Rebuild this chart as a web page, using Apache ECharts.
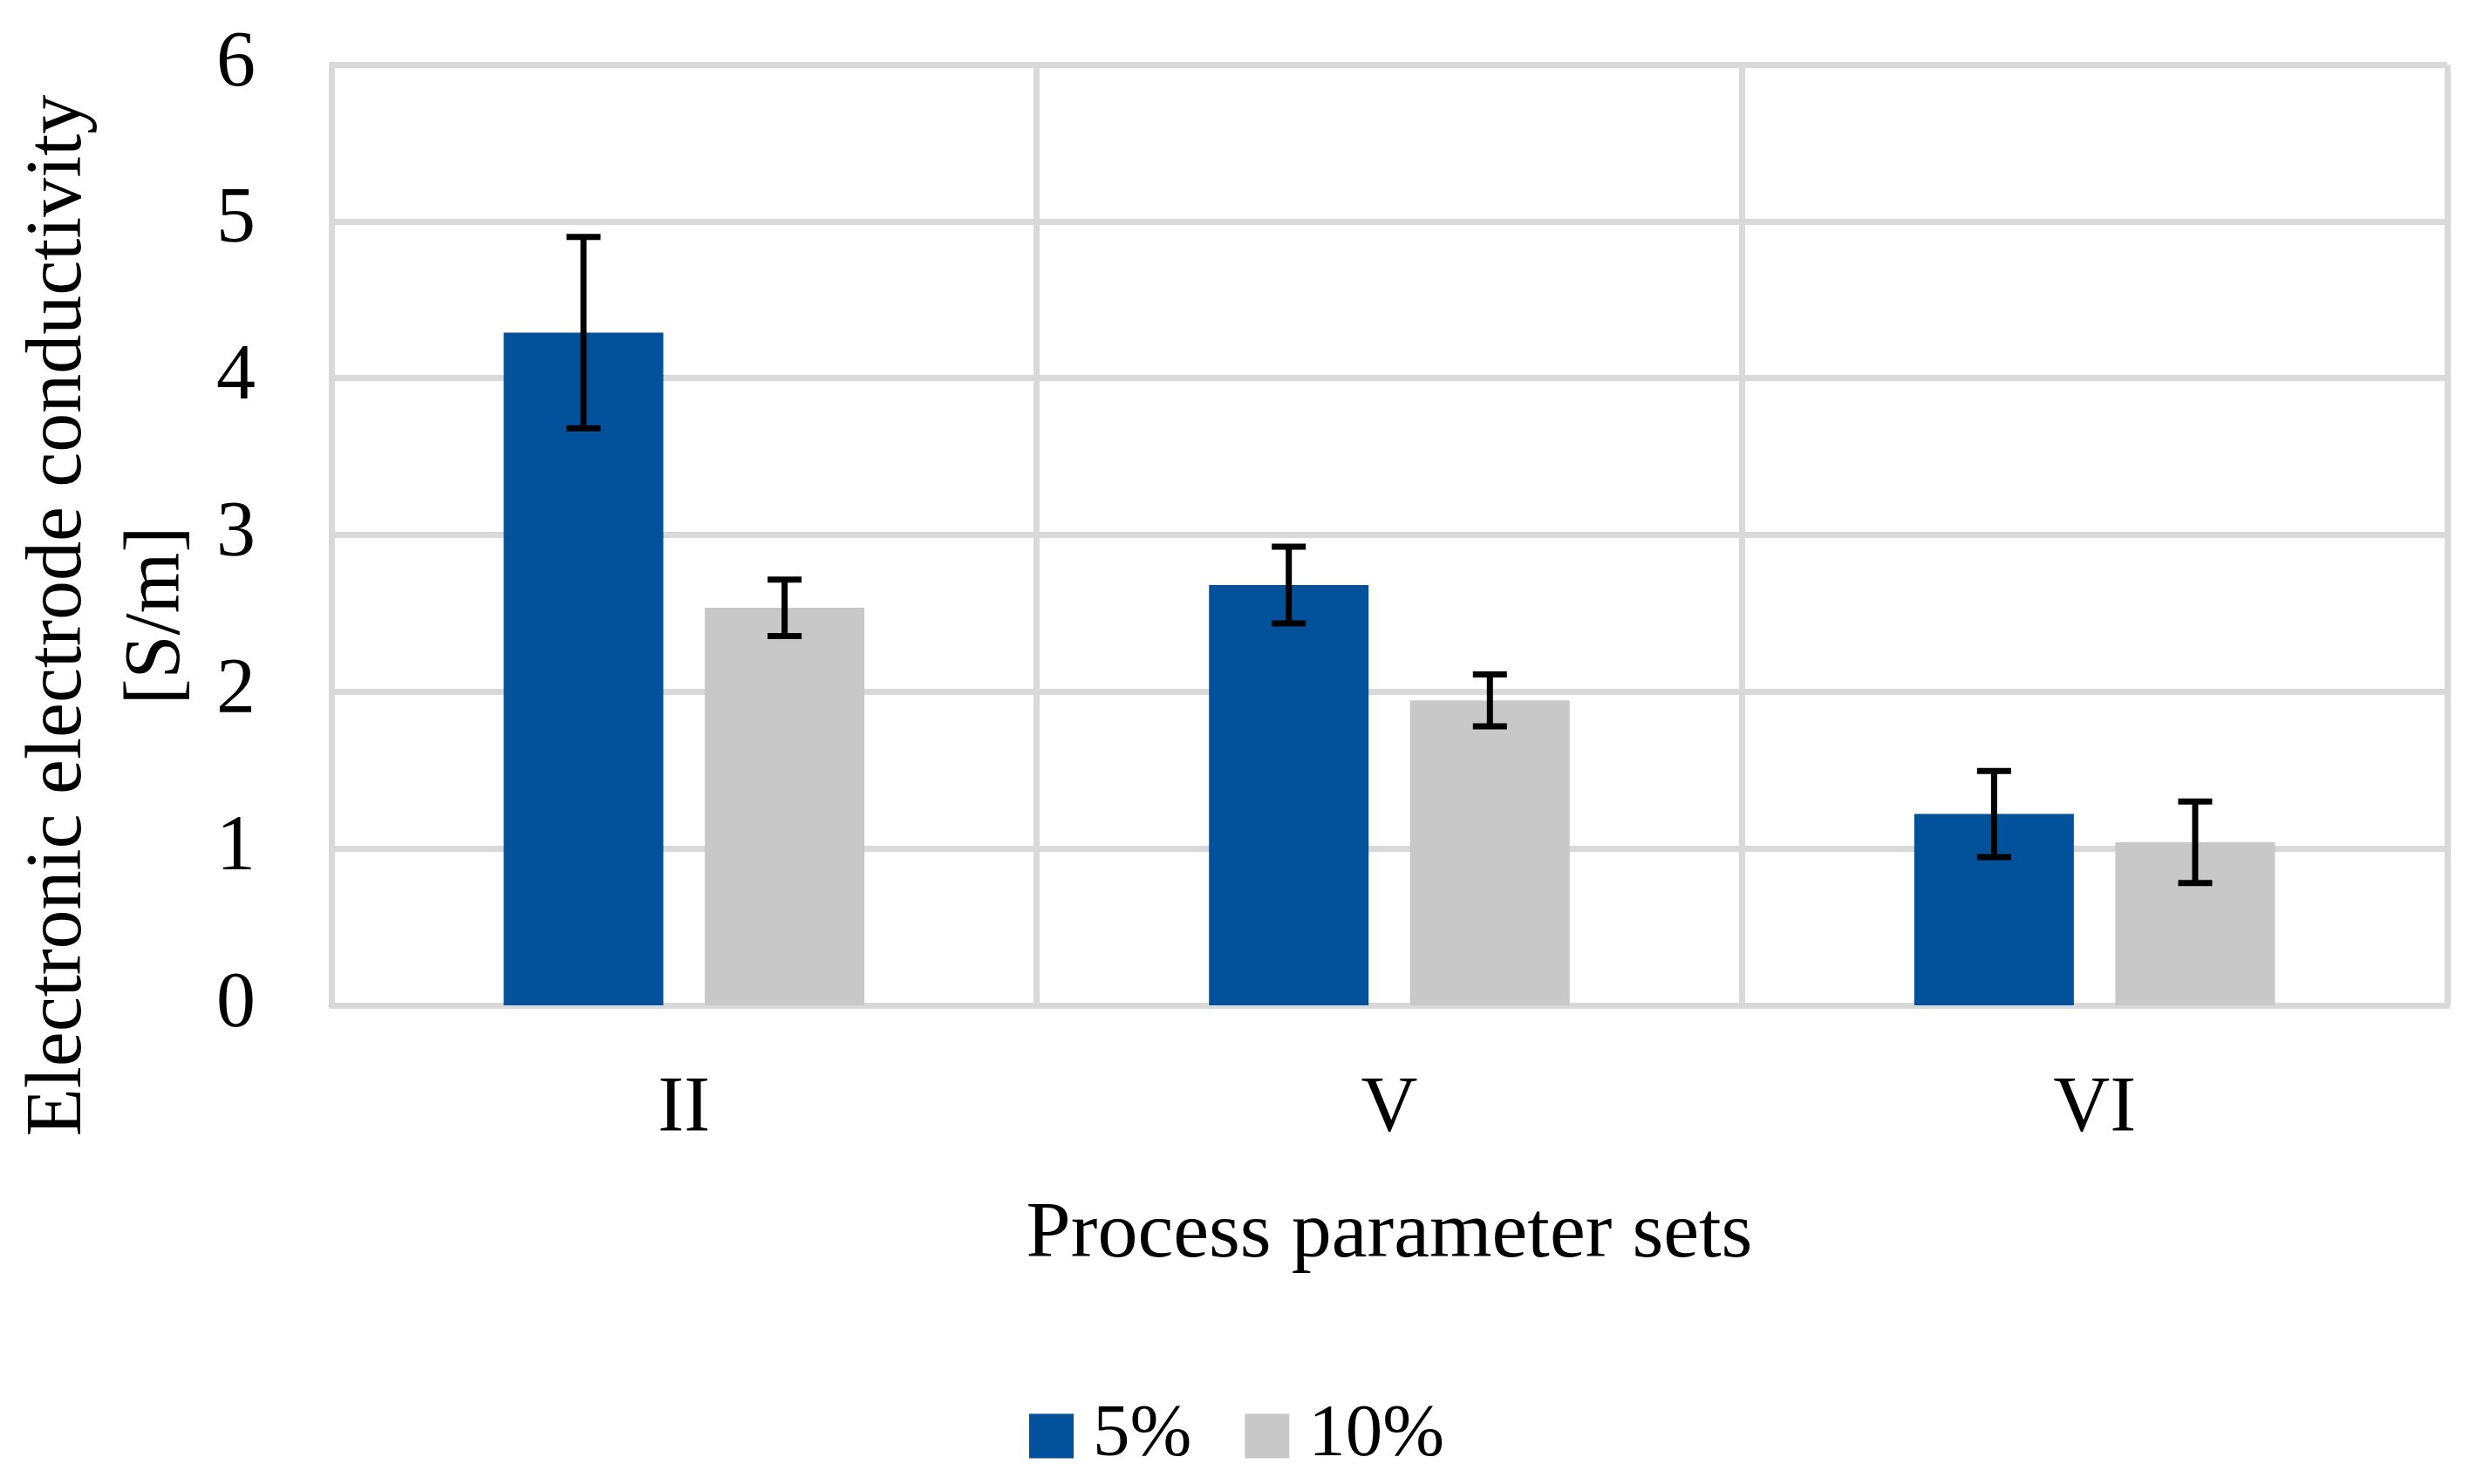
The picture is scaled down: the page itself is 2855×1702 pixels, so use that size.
<!DOCTYPE html>
<html>
<head>
<meta charset="utf-8">
<script src="https://cdn.jsdelivr.net/npm/echarts@6/dist/echarts.min.js"></script>
<style>
html,body{margin:0;padding:0;background:#fff;}
#chart{width:2855px;height:1702px;}
</style>
</head>
<body>
<div id="chart"></div>
<script>
// ---- data ----
const categories = ['II', 'V', 'VI'];
const seriesNames = ['5%', '10%'];
const values5 = [4.29, 2.68, 1.22];
const errors5 = [0.61, 0.245, 0.275];
const values10 = [2.535, 1.945, 1.04];
const errors10 = [0.18, 0.165, 0.26];
const yTicks = [0, 1, 2, 3, 4, 5, 6];
const xTitle = 'Process parameter sets';
const yTitle = 'Electronic electrode conductivity\n[S/m]';

// ---- style ----
const FONT = '"Liberation Serif", "Times New Roman", serif';
const FS = 90;
const BLUE = '#02519a';
const GREY = '#c8c8c8';
const GRID = '#d9d9d9';
const BAR_W = 183;
const GAP_PCT = 26;
const ERR_OFFSET = (BAR_W + BAR_W * GAP_PCT / 100) / 2;

function errData(vals, errs) {
  return vals.map((v, i) => [i, v - errs[i], v + errs[i]]);
}

function errRender(sign) {
  return function (params, api) {
    const c = api.value(0);
    const lo = api.coord([c, api.value(1)]);
    const hi = api.coord([c, api.value(2)]);
    const x = lo[0] + sign * ERR_OFFSET;
    const cap = 19.5;
    const st = { stroke: '#000', lineWidth: 7 };
    return {
      type: 'group',
      children: [
        { type: 'line', shape: { x1: x, y1: lo[1], x2: x, y2: hi[1] }, style: st },
        { type: 'line', shape: { x1: x - cap, y1: lo[1], x2: x + cap, y2: lo[1] }, style: st },
        { type: 'line', shape: { x1: x - cap, y1: hi[1], x2: x + cap, y2: hi[1] }, style: st }
      ]
    };
  };
}

const chart = echarts.init(document.getElementById('chart'), null, { renderer: 'canvas' });
chart.setOption({
  animation: false,
  backgroundColor: '#fff',
  grid: { left: 380, right: 49, top: 74, bottom: 549, containLabel: false },
  legend: {
    data: seriesNames,
    left: 1175,
    top: 1597,
    itemWidth: 51,
    itemHeight: 51,
    itemGap: 61,
    icon: 'rect',
    textStyle: { fontFamily: FONT, fontSize: 85, color: '#000', lineHeight: 90, padding: [0, 0, 0, 17] }
  },
  xAxis: {
    type: 'category',
    data: categories,
    name: xTitle,
    nameLocation: 'middle',
    nameGap: 218,
    nameTextStyle: { fontFamily: FONT, fontSize: 92, color: '#000' },
    axisLine: { show: true, lineStyle: { color: GRID, width: 7 } },
    axisTick: { show: false },
    splitLine: { show: true, lineStyle: { color: GRID, width: 7 } },
    axisLabel: { fontFamily: FONT, fontSize: FS, color: '#000', margin: 75 }
  },
  yAxis: {
    type: 'value',
    min: yTicks[0],
    max: yTicks[yTicks.length - 1],
    interval: 1,
    axisLine: { show: true, lineStyle: { color: GRID, width: 7 } },
    axisTick: { show: false },
    splitLine: { show: true, lineStyle: { color: GRID, width: 7 } },
    axisLabel: { fontFamily: FONT, fontSize: FS, color: '#000', margin: 87, padding: [4, 0, 0, 0] }
  },
  graphic: [{
    type: 'text',
    x: 125,
    y: 706,
    rotation: Math.PI / 2,
    style: {
      text: yTitle,
      font: FS + 'px ' + FONT,
      fill: '#000',
      align: 'center',
      verticalAlign: 'middle',
      lineHeight: 113
    }
  }],
  series: [
    { name: seriesNames[0], type: 'bar', data: values5, barWidth: BAR_W, barGap: GAP_PCT + '%', itemStyle: { color: BLUE } },
    { name: seriesNames[1], type: 'bar', data: values10, barWidth: BAR_W, barGap: GAP_PCT + '%', itemStyle: { color: GREY } },
    { type: 'custom', data: errData(values5, errors5), renderItem: errRender(-1), z: 10, encode: { x: 0, y: [1, 2] } },
    { type: 'custom', data: errData(values10, errors10), renderItem: errRender(1), z: 10, encode: { x: 0, y: [1, 2] } }
  ]
});
</script>
</body>
</html>
